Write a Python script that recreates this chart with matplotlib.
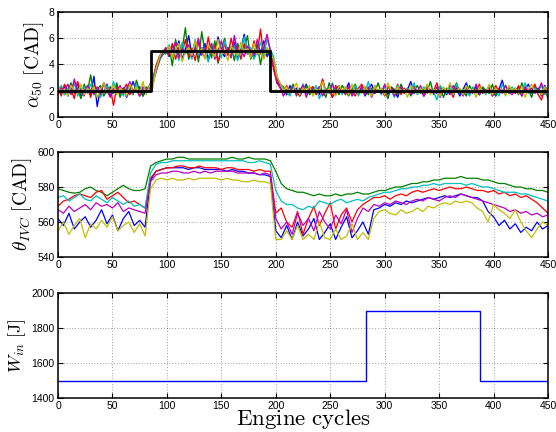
import numpy as np
import matplotlib
matplotlib.use("Agg")
import matplotlib.pyplot as plt

plt.rcParams['mathtext.fontset'] = 'cm'
plt.rcParams['font.family'] = ['Liberation Sans', 'DejaVu Sans']

# ---------------- data ----------------
# top panel: alpha50, sampled every 3 cycles (0..450)
alpha_blue = [2.1,1.8,2.4,1.6,2.2,1.9,2.6,1.5,2.0,2.3,1.7,3.1,0.8,2.2,1.9,2.5,1.6,2.0,2.4,1.8,2.2,1.5,2.1,2.7,1.9,2.3,1.6,2.0,2.4,
    2.9,3.8,4.4,4.7,
    5.2,4.6,5.5,4.9,5.8,4.4,5.1,6.2,4.7,5.3,4.5,5.0,5.6,4.3,5.4,4.8,6.1,5.0,4.6,5.3,4.9,5.7,4.4,5.1,6.3,4.8,5.2,4.5,5.5,4.9,5.8,4.6,5.0,
    3.9,2.6,2.3,
    2.1,1.7,2.4,1.9,2.2,1.6,2.0,2.5,1.8,2.3, 2.0,1.7,2.8,1.9,2.2,1.5,2.1,2.4,1.8,2.0,
    2.6,1.7,2.2,1.9,2.3,1.6,2.1,2.5,1.8,2.0, 1.9,2.4,1.7,2.2,2.0,1.5,2.3,1.9,2.1,2.7,
    1.8,2.0,2.2,1.6,2.4,1.9,2.1,1.8,2.3,2.0, 1.7,2.5,1.9,2.2,1.6,2.1,2.6,1.8,2.0,2.3,
    1.7,2.2,1.9,2.4,2.0,1.6,2.1,2.8,1.8,2.2, 1.9,2.0,2.3,1.7,2.1,2.5,1.8,2.0,2.2,1.6, 2.4,1.9]
alpha_green = [1.9,2.3,1.7,2.0,2.6,1.8,2.2,1.4,2.5,1.9,3.2,1.7,2.1,2.4,1.6,2.0,2.3,1.8,2.6,1.5,2.2,1.9,2.5,1.7,2.8,2.0,1.6,2.3,1.9,
    2.6,3.5,4.2,4.9,
    4.8,5.4,3.9,5.9,4.6,5.2,6.8,4.4,5.0,5.7,4.2,6.5,4.9,5.3,4.5,5.8,4.1,5.1,6.0,4.7,5.4,4.3,5.6,4.9,5.2,6.2,4.4,5.0,5.5,4.0,5.3,4.8,5.1,
    4.3,3.0,2.5,
    2.3,1.8,2.0,2.5,1.6,2.2,1.9,2.4,1.7,2.1, 1.8,2.3,2.0,1.5,2.6,1.9,2.2,1.7,2.4,2.0,
    1.6,2.1,2.5,1.8,2.0,2.3,1.7,2.2,1.9,2.6, 1.8,2.0,1.4,2.3,2.1,1.7,2.5,1.9,2.2,1.6,
    2.0,2.4,1.8,2.1,1.9,2.7,1.7,2.0,2.3,1.5, 2.2,1.9,2.1,2.6,1.8,2.0,1.6,2.4,1.9,2.2,
    1.7,2.3,2.0,1.8,2.5,1.6,2.1,1.9,2.4,1.8, 2.0,2.2,1.7,2.6,1.9,2.1,1.5,2.3,2.0,1.8, 2.1,1.4]
alpha_red = [2.2,1.6,2.5,1.9,2.1,1.4,2.7,2.0,1.8,2.3,1.5,2.4,2.0,1.7,2.6,1.9,2.2,0.9,2.3,1.8,2.1,2.5,1.7,2.0,2.4,1.6,2.2,1.9,2.3,
    2.8,3.9,4.6,5.0,
    5.1,4.7,5.6,4.4,5.3,4.9,5.9,4.6,5.2,4.3,5.7,5.0,4.5,6.1,4.8,5.4,4.2,5.1,5.5,4.7,6.0,4.9,5.3,4.4,5.6,5.0,4.6,5.8,4.8,6.7,4.5,5.2,4.9,
    3.6,2.7,2.2,
    1.9,2.4,1.7,2.2,2.0,1.6,2.5,1.8,2.1,2.3, 1.7,2.0,2.9,1.8,2.2,1.5,2.4,1.9,2.1,1.7,
    2.3,2.0,1.6,2.2,2.5,1.8,2.0,1.7,2.4,1.9, 2.1,1.6,2.3,2.0,1.8,2.5,1.7,2.2,1.9,2.0,
    2.4,1.8,2.1,1.6,2.3,1.9,2.0,2.6,1.7,2.2, 1.9,2.1,1.5,2.4,2.0,1.8,2.3,1.7,2.1,1.9,
    2.5,1.8,2.0,2.2,1.6,2.4,1.9,2.1,1.7,2.3, 2.0,1.8,2.4,1.6,2.2,1.9,2.0,2.5,1.7,1.3, 2.1,1.8]
alpha_cyan = [2.0,2.4,1.7,2.2,1.9,2.6,1.6,2.1,2.3,1.8,2.5,1.9,2.2,1.5,2.0,2.4,1.8,2.7,1.9,2.1,1.6,2.3,2.0,1.8,2.5,1.7,2.2,2.0,2.1,
    2.7,3.7,4.3,4.8,
    5.0,5.5,4.6,5.2,4.3,5.7,4.8,5.1,4.4,5.9,4.7,5.3,5.0,4.2,5.6,4.9,5.2,4.5,5.8,5.0,4.6,5.4,4.3,5.1,6.1,4.8,5.3,4.4,5.0,5.7,4.7,5.9,5.2,
    4.6,3.2,2.4,
    2.2,1.9,1.6,2.3,2.0,1.8,2.5,1.7,2.1,1.9, 2.4,1.4,2.0,2.2,1.8,2.6,1.9,2.1,1.7,2.3,
    2.0,1.8,2.4,1.6,2.2,1.9,2.7,1.8,2.0,2.1, 1.7,2.3,1.9,2.0,1.5,2.4,2.1,1.8,2.2,1.9,
    2.6,1.7,2.0,2.3,1.8,2.1,1.9,1.3,2.4,2.0, 1.8,2.2,1.7,2.5,1.9,2.1,2.0,1.6,2.3,1.8,
    2.2,2.0,1.7,2.4,1.9,2.1,1.6,2.5,1.8,2.0, 2.3,1.9,2.1,1.7,2.6,1.8,2.0,2.2,1.9,2.4, 1.7,2.1]
alpha_magenta = [1.8,2.2,2.0,2.5,1.7,2.9,1.9,2.1,1.6,2.4,2.0,1.8,2.3,1.7,2.6,2.0,1.5,2.2,1.9,2.4,1.8,2.1,2.7,1.9,2.0,1.6,2.3,2.1,2.2,
    2.5,3.4,4.4,4.9,
    5.3,4.8,5.0,5.7,4.5,5.2,4.9,5.5,4.6,5.1,6.0,4.7,5.3,4.9,5.6,4.4,5.0,5.8,4.8,5.2,4.5,6.2,4.9,5.1,4.6,5.4,5.0,4.7,5.9,4.8,5.3,6.3,5.0,
    4.1,2.9,2.3,
    1.6,2.1,1.9,2.3,1.7,2.0,2.4,1.5,2.2,1.8, 2.0,2.3,1.6,2.1,1.9,2.5,1.7,2.2,2.0,1.8,
    2.4,1.6,2.0,1.9,2.2,1.7,2.3,1.5,2.1,2.0, 1.8,2.5,1.9,2.2,1.6,2.0,2.3,1.8,2.1,1.7,
    2.2,1.9,2.4,1.6,2.0,2.1,1.8,2.3,1.5,2.2, 2.0,1.7,2.4,1.9,2.1,1.6,2.2,2.0,1.8,2.5,
    1.7,2.1,1.9,2.3,1.6,2.0,2.2,1.8,2.4,1.9, 1.7,2.1,2.0,1.6,2.3,1.9,2.2,1.8,2.0,2.6, 1.8,2.0]
alpha_yellow = [2.3,1.9,2.1,1.6,2.4,2.0,1.8,2.5,1.7,2.2,1.9,2.3,1.5,2.1,2.6,1.8,2.0,2.4,1.7,2.2,2.0,1.6,2.5,1.9,2.3,1.8,2.7,1.7,2.4,
    2.2,3.6,4.5,5.1,
    4.9,5.4,4.5,5.1,5.6,4.2,5.0,5.3,4.7,5.8,4.9,5.2,4.4,5.5,5.0,4.6,5.9,4.8,5.1,4.3,5.4,5.0,4.7,5.7,4.9,5.2,4.5,5.6,4.8,5.0,4.4,5.3,4.9,
    4.4,3.1,2.6,
    2.0,2.3,1.8,2.1,2.6,1.7,2.2,1.9,2.4,1.6, 2.1,2.0,2.7,1.8,2.2,1.9,1.6,2.4,2.0,2.3,
    1.7,2.5,1.9,2.1,1.8,2.3,2.0,1.6,2.4,1.9, 2.2,1.7,2.6,2.0,1.8,2.3,1.9,2.1,1.5,2.4,
    2.0,1.8,2.2,1.9,2.5,1.7,2.1,2.0,1.6,2.3, 1.9,2.6,1.8,2.0,2.2,1.7,2.4,1.9,2.1,1.5,
    2.3,2.0,1.8,2.5,1.7,2.2,1.9,2.1,1.6,2.4, 2.0,2.2,1.8,2.3,1.5,2.1,2.5,1.9,2.0,1.7, 2.3,1.9]

alpha_ref_x = [0, 85, 195, 450]
alpha_ref_y = [2, 5, 2, 2]

# middle panel: theta_IVC, sampled every 5 cycles (0..450)
theta_blue = [562,558,565,556,560,563,557,561,567,559,564,555,562,566,558,561,557,
    584,589,590,591,591,591,591,590,591,591,590,590,590,590,589,590,589,589,588,588,587,587,586,
    555,551,558,550,560,552,556,562,550,554,559,550,557,563,551,555,560,553,
    567,568,570,569,571,570,572,571,572,573,574,573,574,575,574,575,576,575,574,574,572,566,563,558,561,556,559,554,557,555,560,556,558]
theta_green = [579,578,577,576.5,577,579,580,578,577,575,577,579,581,579,578,578,579,
    592,594,595,596,596,597,597,596,596,596,596,596,596,596,596,597,596,596,597,596,596,596,595,
    589,582,579,578,577,577,576,575,576,575,575,576,575,576,576,577,576,576,
    577,578,578,579,580,580,581,582,582,583,583,584,584,585,585,585,586,585,585,585,584,584,583,582,582,581,580,580,579,579,578,578,577]
theta_red = [569,572,573,575,576,575,574,577,578,573,575,577,574,571,572,570,568,
    585,589,590,591,591,592,592,591,591,592,591,591,591,590,591,591,590,590,590,589,590,589,589,
    565,568,560,557,566,553,562,569,558,565,571,556,564,568,560,567,570,572,
    574,574,575,573,575,576,575,577,578,577,578,579,578,579,580,579,579,580,579,578,578,577,578,576,577,575,576,574,575,573,571,568,565]
theta_cyan = [574,575,572,574,576,573,572,575,573,571,574,572,570,572,569,570,568,
    588,593,594,594,595,595,595,595,595,595,595,595,595,595,595,595,595,595,594,594,595,594,593,
    578,572,570,570,568,567,569,568,572,571,570,572,573,571,572,573,572,574,
    575,576,577,577,578,579,579,580,580,581,581,582,581,582,582,582,582,581,582,581,580,580,579,578,577,577,577,576,576,575,574,573,572]
theta_magenta = [567,565,569,566,568,570,567,571,569,570,568,571,566,568,567,566,565,
    583,587,588,588,589,589,588,588,589,588,589,588,589,589,589,589,588,588,588,588,587,588,587,
    562,556,560,553,565,558,562,555,566,560,556,564,559,567,554,562,568,566,
    570,569,571,570,572,571,570,572,573,572,574,573,572,574,575,574,576,575,574,573,572,571,570,569,568,566,567,565,566,564,565,563,564]
theta_yellow = [555,560,553,558,562,551,559,556,561,557,563,555,558,560,554,559,552,
    579,584,585,584,585,584,584,585,584,585,585,585,585,584,585,584,584,583,583,584,583,583,582,
    550,550,555,550,558,550,553,550,560,551,550,556,550,552,559,550,554,550,
    562,566,567,565,564,567,565,566,568,566,569,568,570,571,570,572,571,572,571,568,566,560,570,567,565,562,567,560,555,551,556,560,558]

# bottom panel: W_in step input
win_x = [0, 283, 388, 450]
win_y = [1500, 1900, 1500, 1500]

x_ticks = list(range(0, 451, 50))
alpha_ticks = [0, 2, 4, 6, 8]
theta_ticks = [540, 560, 580, 600]
win_ticks = [1400, 1600, 1800, 2000]

# ---------------- plotting ----------------
cols = {'b': (0, 0, 1), 'g': (0, 0.5, 0), 'r': (1, 0, 0),
        'c': (0, 0.75, 0.75), 'm': (0.75, 0, 0.75), 'y': (0.75, 0.75, 0)}

fig = plt.figure(figsize=(5.56, 4.32), dpi=100)
L, W, H = 58/556, 490/556, 105/432
ax1 = fig.add_axes([L, 1-117/432, W, H])
ax2 = fig.add_axes([L, 1-257/432, W, H])
ax3 = fig.add_axes([L, 1-398/432, W, H])

cyc3 = np.arange(0, 451, 3)
for key, s in zip('bgrcmy', [alpha_blue, alpha_green, alpha_red, alpha_cyan, alpha_magenta, alpha_yellow]):
    ax1.plot(cyc3, s, color=cols[key], lw=1.0)
ax1.plot(alpha_ref_x, alpha_ref_y, drawstyle='steps-post', color='k', lw=2.0)

cyc5 = np.arange(0, 451, 5)
for key, s in zip('bgrcmy', [theta_blue, theta_green, theta_red, theta_cyan, theta_magenta, theta_yellow]):
    ax2.plot(cyc5, s, color=cols[key], lw=0.9)

ax3.plot(win_x, win_y, drawstyle='steps-post', color=(0, 0, 1), lw=1.0)

for ax, yt in [(ax1, alpha_ticks), (ax2, theta_ticks), (ax3, win_ticks)]:
    ax.set_xlim(0, 450)
    ax.set_ylim(yt[0], yt[-1])
    ax.set_xticks(x_ticks)
    ax.set_yticks(yt)
    ax.grid(True, linestyle=(0, (1, 3)), color='k', lw=0.5, alpha=0.7)
    ax.tick_params(direction='in', top=True, right=True, length=3.5, width=0.8,
                   labelsize=7.5, pad=2.5)
    for sp in ax.spines.values():
        sp.set_linewidth(1.1)

ax1.set_ylabel(r'$\alpha_{50}\ [\mathrm{CAD}]$', fontsize=14, labelpad=2)
ax2.set_ylabel(r'$\theta_{IVC}\ [\mathrm{CAD}]$', fontsize=14, labelpad=2)
ax3.set_ylabel(r'$W_{in}\ [\mathrm{J}]$', fontsize=13, labelpad=2)
fig.text(303/556, 1-425/432, r'$\mathrm{Engine\ cycles}$', fontsize=16.5,
         ha='center', va='baseline')

fig.savefig('out.png', dpi=100)
